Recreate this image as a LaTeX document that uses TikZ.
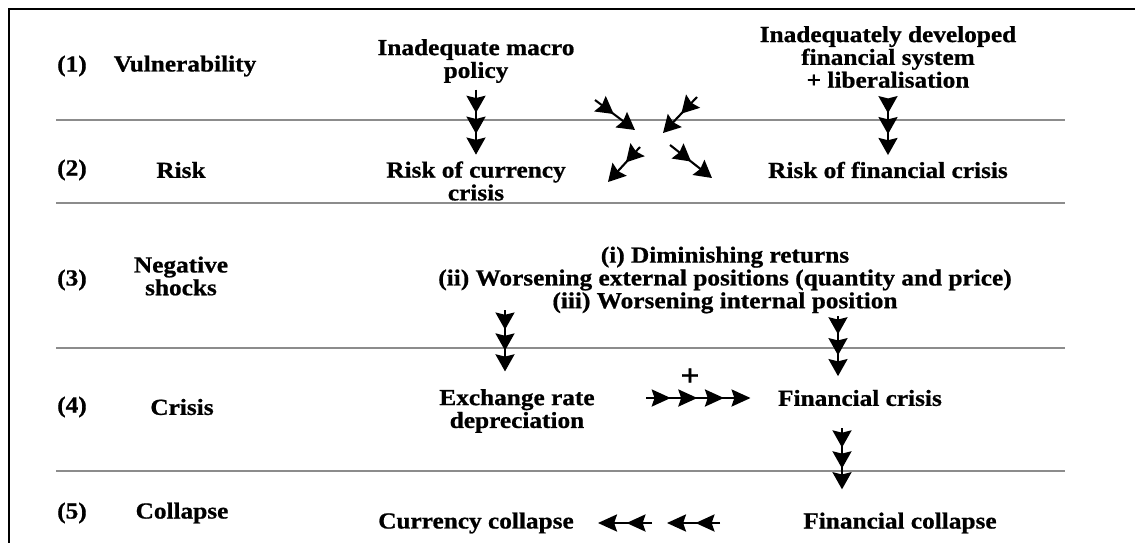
\documentclass[tikz,border=0pt]{standalone}
\usepackage{fontspec}
\setmainfont[FakeStretch=1.1, BoldFeatures={FakeBold=0.8}]{Liberation Serif}
\usetikzlibrary{arrows.meta}

\begin{document}
\begin{tikzpicture}[x=0.0185cm, y=-0.0185cm,
	every node/.style={font=\fontsize{12.1}{12}\selectfont\bfseries, align=center},
	rule/.style={line width=1.3pt, color=black!45},
	vchain/.style={line width=1.1pt, -{Stealth[length=9pt,width=10pt,inset=1.2pt,sep=2pt]Stealth[length=9pt,width=10pt,inset=1.2pt,sep=2pt]Stealth[length=9pt,width=10pt,inset=1.2pt]}},
	dchain/.style={line width=1.1pt, -{Stealth[length=9pt,width=10pt,inset=1.2pt,sep=5pt]Stealth[length=9pt,width=10pt,inset=1.2pt]}},
	hchain/.style={line width=1.1pt, -{Stealth[length=10pt,width=9pt,inset=1.5pt,sep=4pt]Stealth[length=10pt,width=9pt,inset=1.5pt,sep=4pt]Stealth[length=10pt,width=9pt,inset=1.5pt,sep=4pt]Stealth[length=10pt,width=9pt,inset=1.5pt]}},
	lchain/.style={line width=1.1pt, -{Stealth[length=10pt,width=9pt,inset=1.5pt,sep=5pt]Stealth[length=10pt,width=9pt,inset=1.5pt]}}]
	\useasboundingbox (0,0) rectangle (1135,543);
% draw frame and row lines
	\draw[line width=1.5pt] (9,545) -- (9,9) -- (1137,9);
	\foreach \yy in {120,203,348,471}
		\draw[rule] (56,\yy) -- (1065,\yy);

% row labels
	\node (n1) at (72,66) {(1)};
	\node (vul) at (185,66) {Vulnerability};
	\node (n2) at (72,170) {(2)};
	\node (risk) at (181,170) {Risk};
	\node (n3) at (72,280) {(3)};
	\node (neg) at (181,276) {Negative\\shocks};
	\node (n4) at (72,407) {(4)};
	\node (cri) at (182,407) {Crisis};
	\node (n5) at (72,513) {(5)};
	\node (col) at (182,513) {Collapse};

% boxes of text
	\node (macro) at (476,61) {Inadequate macro\\policy};
	\node (finsys) at (888,57) {Inadequately developed\\financial system\\+ liberalisation};
	\node (riskc) at (476,181) {Risk of currency\\crisis};
	\node (riskf) at (888,170) {Risk of financial crisis};
	\node (shk) at (725,280) {(i) Diminishing returns\\(ii) Worsening external positions (quantity and price)\\(iii) Worsening internal position};
	\node (exch) at (517,411) {Exchange rate\\depreciation};
	\node (fincr) at (860,398) {Financial crisis};
	\node[font=\fontsize{16}{16}\selectfont\bfseries] (plus) at (690,377) {+};
	\node (ccol) at (476,523) {Currency collapse};
	\node (fcol) at (900,523) {Financial collapse};

% free ends
	\coordinate (c1) at (595,100);
	\coordinate (c2) at (635,130);
	\coordinate (c3) at (697,97);
	\coordinate (c4) at (663,133);
	\coordinate (c5) at (640,147);
	\coordinate (c6) at (608,182);
	\coordinate (c7) at (670,145);
	\coordinate (c8) at (712,178);
	\coordinate (sl) at (505,310);
	\coordinate (sr) at (838,316);
	\coordinate (dn) at (842,428);
	\coordinate (l1) at (720,523);
	\coordinate (l2) at (667,523);
	\coordinate (l3) at (652,523);
	\coordinate (l4) at (598,523);

% arrows
	\draw[vchain] (macro) -- (riskc);
	\draw[vchain, shorten <=3pt] (finsys) -- (riskf);
	\draw[dchain] (c1) -- (c2);
	\draw[dchain] (c3) -- (c4);
	\draw[dchain] (c5) -- (c6);
	\draw[dchain] (c7) -- (c8);
	\draw[vchain, shorten >=5.8pt] (sl) -- (sl |- exch.north);
	\draw[vchain, shorten >=3.7pt] (sr) -- (sr |- fincr.north);
	\draw[hchain, shorten <=23.7pt, shorten >=11pt] (exch.east |- fincr.west) -- (fincr.west);
	\draw[vchain, shorten >=8.7pt] (dn) -- (dn |- fcol.north);
	\draw[lchain] (l1) -- (l2);
	\draw[lchain] (l3) -- (l4);
\end{tikzpicture}
\end{document}
